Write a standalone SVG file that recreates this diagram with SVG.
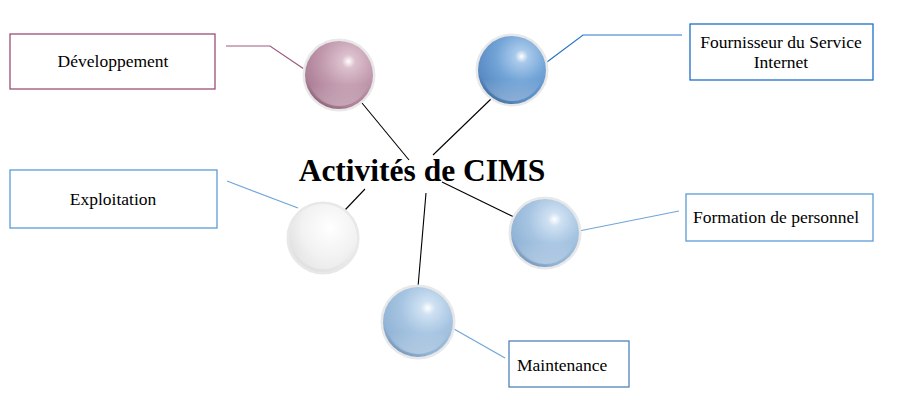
<svg xmlns="http://www.w3.org/2000/svg" width="911" height="415" viewBox="0 0 911 415">
<style>
.box{fill:#fff;stroke-width:1.3}
.lbl{font-family:'Liberation Serif','Times New Roman',serif;font-size:17.5px;fill:#000}
.blk{stroke:#000;stroke-width:1.1;fill:none}
.sh{fill:none;stroke:#e8e8e8;stroke-width:3}
</style>
<defs>
<radialGradient id="gPink" cx="0.64" cy="0.3" r="0.75">
<stop offset="0" stop-color="#ffffff"/>
<stop offset="0.13" stop-color="#dcc0cd"/>
<stop offset="0.5" stop-color="#c39cb0"/>
<stop offset="0.88" stop-color="#ad8097"/>
<stop offset="1" stop-color="#8f6478"/>
</radialGradient>
<radialGradient id="gBlue" cx="0.64" cy="0.3" r="0.75">
<stop offset="0" stop-color="#ffffff"/>
<stop offset="0.13" stop-color="#a9c9ea"/>
<stop offset="0.5" stop-color="#72a4d7"/>
<stop offset="0.88" stop-color="#5a8cc4"/>
<stop offset="1" stop-color="#426f9f"/>
</radialGradient>
<radialGradient id="gLight" cx="0.64" cy="0.3" r="0.75">
<stop offset="0" stop-color="#ffffff"/>
<stop offset="0.13" stop-color="#cfe1f2"/>
<stop offset="0.5" stop-color="#a7c5e2"/>
<stop offset="0.88" stop-color="#92b4d6"/>
<stop offset="1" stop-color="#7396ba"/>
</radialGradient>
<radialGradient id="gWhite" cx="0.6" cy="0.35" r="0.75">
<stop offset="0" stop-color="#ffffff"/>
<stop offset="0.55" stop-color="#f2f2f2"/>
<stop offset="0.9" stop-color="#e0e0e0"/>
<stop offset="1" stop-color="#c8c8c8"/>
</radialGradient>
<linearGradient id="rim" x1="0" y1="0" x2="0" y2="1">
<stop offset="0.65" stop-color="#fff" stop-opacity="0"/>
<stop offset="1" stop-color="#fff" stop-opacity="0.3"/>
</linearGradient>
</defs>

<g id="connectors">
<polyline points="226,46 270,46 304,69" fill="none" stroke="#a0587e" stroke-width="1.2"/>
<polyline points="547,62 583,35 682,35" fill="none" stroke="#2a74c6" stroke-width="1.2"/>
<line x1="227" y1="181" x2="298" y2="208" stroke="#6fa5da" stroke-width="1.2"/>
<line x1="579" y1="231" x2="679" y2="211" stroke="#6fa5da" stroke-width="1.2"/>
<line x1="454" y1="329" x2="505" y2="358" stroke="#6fa5da" stroke-width="1.2"/>
<line class="blk" x1="362" y1="103" x2="409" y2="160"/>
<line class="blk" x1="491" y1="99" x2="433" y2="155"/>
<line class="blk" x1="345" y1="210" x2="365" y2="189"/>
<line class="blk" x1="442" y1="182" x2="514" y2="217"/>
<line class="blk" x1="426" y1="193" x2="418" y2="287"/>
</g>

<g id="title">
<text x="422" y="181" text-anchor="middle" font-family="'Liberation Serif','Times New Roman',serif" font-weight="bold" font-size="31.5" fill="#000">Activités de CIMS</text>
</g>

<g id="developpement">
<rect class="box" x="10" y="34" width="205" height="55" stroke="#9b4f77"/>
<text class="lbl" x="113" y="67" text-anchor="middle">Développement</text>
<circle class="sh" cx="339" cy="75" r="35"/>
<circle cx="339" cy="75" r="34" fill="url(#gPink)"/>
<circle cx="339" cy="75" r="31" fill="url(#rim)"/>
</g>

<g id="fournisseur">
<rect class="box" x="690" y="24" width="183" height="56" stroke="#1f6fc5"/>
<text class="lbl" x="781" y="48" text-anchor="middle">Fournisseur du Service</text>
<text class="lbl" x="781" y="68" text-anchor="middle">Internet</text>
<circle class="sh" cx="512" cy="70" r="35"/>
<circle cx="512" cy="70" r="34" fill="url(#gBlue)"/>
<circle cx="512" cy="70" r="31" fill="url(#rim)"/>
</g>

<g id="exploitation">
<rect class="box" x="10" y="170" width="207" height="58" stroke="#5b9bd5"/>
<text class="lbl" x="113" y="205" text-anchor="middle">Exploitation</text>
<circle class="sh" cx="323" cy="238" r="35"/>
<circle cx="323" cy="238" r="34" fill="url(#gWhite)"/>
<circle cx="323" cy="238" r="31" fill="url(#rim)"/>
</g>

<g id="formation">
<rect class="box" x="686" y="194" width="187" height="47" stroke="#5b9bd5"/>
<text class="lbl" x="693" y="223">Formation de personnel</text>
<circle class="sh" cx="545" cy="233" r="35"/>
<circle cx="545" cy="233" r="34" fill="url(#gLight)"/>
<circle cx="545" cy="233" r="31" fill="url(#rim)"/>
</g>

<g id="maintenance">
<rect class="box" x="509" y="341" width="120" height="46" stroke="#4f81bd"/>
<text class="lbl" x="517" y="371">Maintenance</text>
<circle class="sh" cx="418" cy="322" r="36"/>
<circle cx="418" cy="322" r="35" fill="url(#gLight)"/>
<circle cx="418" cy="322" r="32" fill="url(#rim)"/>
</g>
</svg>
